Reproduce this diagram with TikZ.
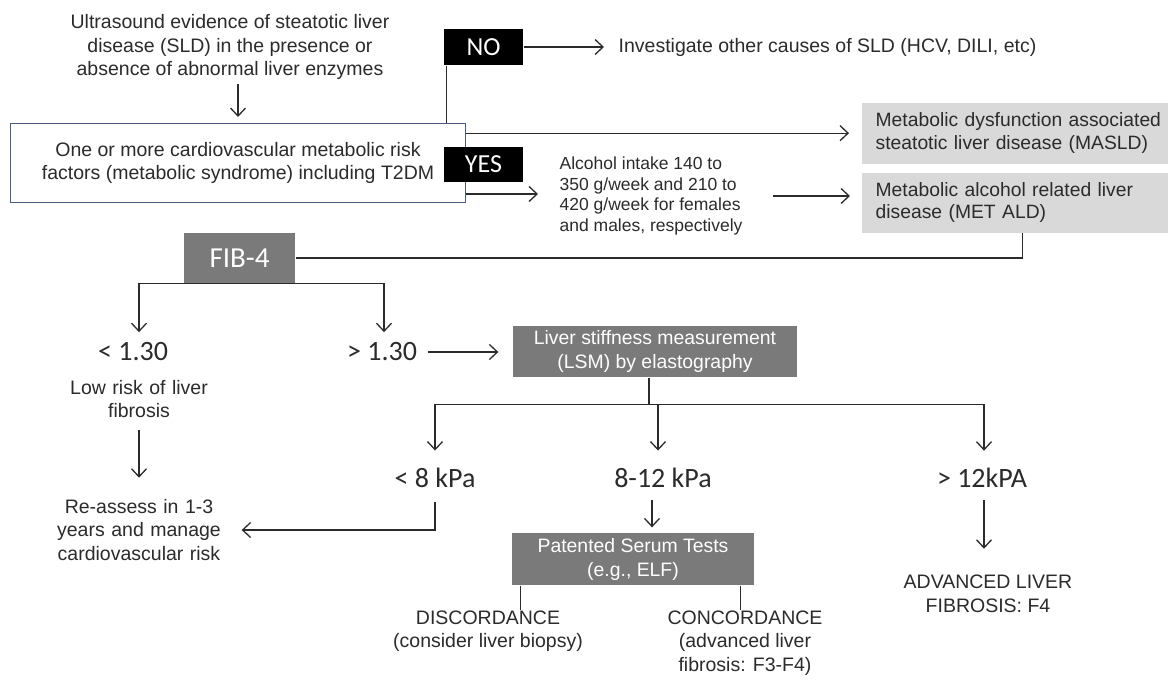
\documentclass[tikz,border=0pt]{standalone}
\usepackage{fontspec}
\setmainfont{Liberation Sans}
\newfontfamily\calfont{Carlito}
\usetikzlibrary{arrows.meta,calc}
\definecolor{ink}{HTML}{2B2B2B}
\definecolor{boxblue}{HTML}{4A5A80}
\definecolor{darkbox}{HTML}{7A7A7A}
\definecolor{lightbox}{HTML}{D9D9D9}
\begin{document}
\begin{tikzpicture}[x=1pt,y=-1pt,line width=1.3pt,
  arr/.style={draw=ink,-{Straight Barb[length=8pt,width=15pt,line width=1.3pt]}},
  conn/.style={draw=ink},
  txt/.style={font=\fontsize{19.5}{23.5}\selectfont,text=ink,align=center,inner sep=0pt},
  stxt/.style={font=\fontsize{17.5}{20.7}\selectfont,text=ink,align=left,inner sep=0pt},
  big/.style={font=\calfont\fontsize{28}{30}\selectfont,text=ink,inner sep=0pt},
  blackbox/.style={fill=black,text=white,font=\calfont\fontsize{26}{26}\selectfont,inner sep=0pt,minimum width=79pt},
  greybox/.style={fill=darkbox,text=white,font=\fontsize{19.4}{24}\selectfont,inner sep=0pt,align=center},
  lightgrey/.style={fill=lightbox,text=ink,font=\fontsize{19.3}{22.5}\selectfont,inner xsep=14pt,inner ysep=0pt,align=left,anchor=north west,minimum width=327pt,text width=299pt}
]
\fill[white] (0,0) rectangle (1168,680);
\useasboundingbox (0,0) rectangle (1168,680);

% top
\node[txt] (us) at (230,47) {Ultrasound evidence of steatotic liver\\disease (SLD) in the presence or\\absence of abnormal liver enzymes};
\node[draw=boxblue,line width=1pt,minimum width=455pt,minimum height=79pt,anchor=north west,inner sep=0pt,
  font=\fontsize{19.5}{23.5}\selectfont,text=ink,align=center] (main) at (10,123)
  {One or more cardiovascular metabolic risk\\factors (metabolic syndrome) including T2DM};
\draw[arr,shorten <=4pt,shorten >=6pt] (us.south -| main.north) -- (main.north);

\node[blackbox,minimum height=36pt] (no) at (483.5,47) {NO};
\node[blackbox,minimum height=35pt] (yes) at (483.5,164.5) {YES};
\node[txt,anchor=west] (inv) at (618,47) {Investigate other causes of SLD (HCV, DILI, etc)};
\draw[arr,shorten >=14pt] (no.east) -- (inv.west);
\draw[conn] ([xshift=3pt]no.south west) -- ([xshift=3pt]no.south west |- main.north);

\node[lightgrey,minimum height=61pt] (masld) at (861,102) {Metabolic dysfunction associated\\steatotic liver disease (MASLD)};
\node[lightgrey,minimum height=60pt] (metald) at (861,172) {Metabolic alcohol related liver\\disease (MET ALD)};
\draw[arr,shorten >=12pt] (main.east |- masld.west) -- (masld.west);

\node[stxt,anchor=west] (alc) at (559,196) {Alcohol intake 140 to\\350 g/week and 210 to\\420 g/week for females\\and males, respectively};
\draw[arr,shorten >=21pt] ([yshift=9pt]main.south east) -- ([yshift=9pt]main.south east -| alc.west);
\draw[arr,shorten >=11pt] ([xshift=-88pt]metald.west |- alc.east) -- (metald.west |- alc.east);

% FIB-4
\node[fill=darkbox,text=white,font=\calfont\fontsize{29}{29}\selectfont,minimum width=111pt,minimum height=50pt,inner sep=0pt] (fib) at (239.5,258) {FIB-4};
\draw[conn] ([xshift=-2.5pt]metald.south) |- (fib.east);

\node[big] (lt130) at (133,352) {< 1.30};
\node[big] (gt130) at (382,352) {> 1.30};
\draw[arr,shorten >=10pt] (fib.south) -| ([xshift=6pt]lt130.north);
\draw[arr,shorten >=10pt] (fib.south) -| ([xshift=2pt]gt130.north);

\node[greybox,minimum width=284pt,minimum height=51pt] (lsm) at (655,351.5) {Liver stiffness measurement\\(LSM) by elastography};
\draw[arr,shorten <=10pt,shorten >=14pt] (gt130.east) -- (gt130.east -| lsm.west);

\node[txt,text width=196pt] (lowrisk) at (139,399) {Low risk of liver\\fibrosis};
\node[txt,text width=196pt] (reassess) at (139,530) {Re-assess in 1-3\\years and manage\\cardiovascular risk};
\draw[arr,shorten <=11pt,shorten >=21pt] (lowrisk.south) -- (lowrisk.south |- reassess.north);

% LSM branches
\node[big] (lt8) at (435,478) {< 8 kPa};
\node[big] (mid) at (663,478) {8-12 kPa};
\node[big] (gt12) at (982,478) {> 12kPA};
\draw[conn] ([xshift=-6pt]lsm.south) -- ++(0,27) coordinate (lsmj);
\draw[arr,shorten >=17pt] (lsmj) -| (lt8.north);
\draw[arr,shorten >=17pt] (lsmj) -| ([xshift=-5pt]mid.north);
\draw[arr,shorten >=17pt] (lsmj) -| ([xshift=2pt]gt12.north);

\draw[arr,shorten <=14pt,shorten >=4pt] (lt8.south) |- (reassess.east);

% serum tests
\node[greybox,minimum width=242pt,minimum height=52pt] (pat) at (633,559) {Patented Serum Tests\\(e.g., ELF)};
\draw[arr,shorten <=12pt,shorten >=5pt] ([xshift=-11pt]mid.south) -- ([xshift=-11pt]mid.south |- pat.north);

\node[txt] (disc) at (488,631) {DISCORDANCE\\(consider liver biopsy)};
\node[txt] (conc) at (745,643) {CONCORDANCE\\(advanced liver\\fibrosis: F3-F4)};
\draw[conn] ([xshift=9pt]pat.south west) -- ([xshift=9pt]pat.south west |- disc.north);
\draw[conn] ([xshift=-14pt]pat.south east) -- ([xshift=-14pt]pat.south east |- conc.north);

\node[txt] (adv) at (988,594) {ADVANCED LIVER\\FIBROSIS: F4};
\draw[arr,shorten <=12pt,shorten >=26pt] ([xshift=2pt]gt12.south) -- ([xshift=2pt]gt12.south |- adv.north);
\end{tikzpicture}
\end{document}
